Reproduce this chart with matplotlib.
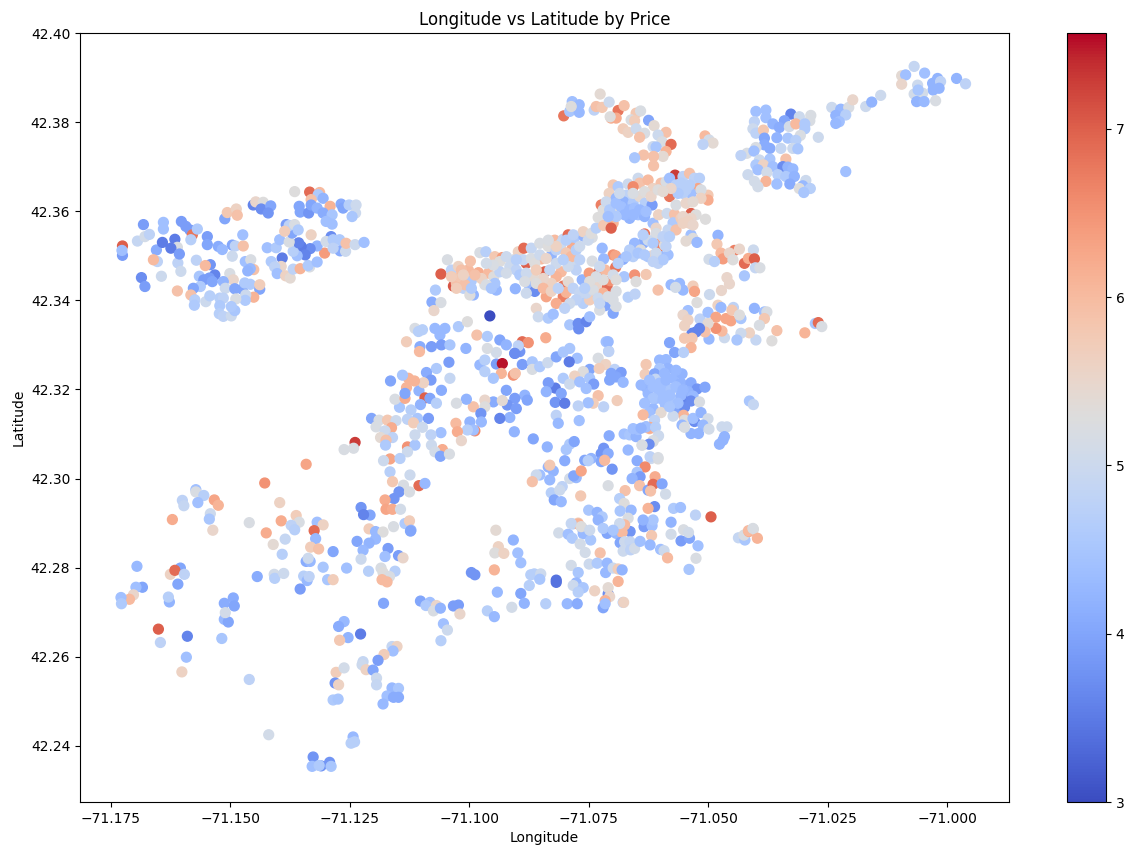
import pandas as pd
import matplotlib
matplotlib.use('Agg')
import matplotlib.pyplot as plt

# listings: (longitude, latitude, log price)
brighton = [(-71.1715,42.3522,7.0),(-71.1715,42.3501,3.9),(-71.1716,42.3512,4.4),(-71.1673,42.3570,3.9),(-71.1685,42.3533,4.9),(-71.1670,42.3543,5.1),(-71.1661,42.3548,4.8),(-71.1647,42.3513,4.1),(-71.1635,42.3530,3.5),(-71.1633,42.3575,4.4),(-71.1633,42.3560,4.4),(-71.1610,42.3537,3.5),(-71.1605,42.3519,5.2),(-71.1618,42.3517,3.5),(-71.1645,42.3487,4.8),(-71.1653,42.3491,6.0),(-71.1604,42.3484,4.8),(-71.1601,42.3504,3.9),(-71.1598,42.3465,5.0),(-71.1677,42.3451,3.7),(-71.1670,42.3431,3.9),(-71.1637,42.3454,5.0),(-71.1605,42.3421,5.9),(-71.1597,42.3577,3.9),(-71.1588,42.3566,3.9),(-71.1580,42.3558,3.9),(-71.1575,42.3547,6.8),(-71.1565,42.3560,4.6),(-71.1578,42.3536,4.7),(-71.1545,42.3543,3.9),(-71.1545,42.3525,4.0),(-71.1567,42.3490,4.8),(-71.1539,42.3480,3.8),(-71.1549,42.3478,6.0),
 (-71.1510,42.3583,4.0),(-71.1505,42.3597,5.8),(-71.1487,42.3605,5.6),(-71.1485,42.3591,5.9),(-71.1453,42.3614,3.6),(-71.1448,42.3621,5.5),(-71.1433,42.3620,5.3),(-71.1437,42.3605,3.7),(-71.1418,42.3612,4.0),(-71.1423,42.3596,3.8),(-71.1523,42.3521,4.1),(-71.1515,42.3514,4.3),(-71.1495,42.3524,4.0),(-71.1489,42.3522,4.8),(-71.1473,42.3522,5.9),(-71.1474,42.3547,4.4),(-71.1495,42.3499,5.0),(-71.1469,42.3487,4.4),(-71.1458,42.3491,5.2),(-71.1452,42.3469,5.9),(-71.1459,42.3471,4.3),(-71.1464,42.3466,4.2),(-71.1500,42.3460,5.2),(-71.1493,42.3446,5.5),(-71.1530,42.3457,3.6),(-71.1561,42.3454,4.5),(-71.1552,42.3446,3.9),(-71.1541,42.3450,3.9),(-71.1535,42.3442,4.0),(-71.1513,42.3442,4.2),(-71.1559,42.3431,4.6),(-71.1573,42.3427,4.0),(-71.1578,42.3412,5.9),(-71.1570,42.3401,4.7),(-71.1571,42.3389,4.6),(-71.1548,42.3397,5.0),(-71.1540,42.3410,4.7),(-71.1520,42.3405,4.7),(-71.1509,42.3427,5.0),(-71.1490,42.3426,4.0),(-71.1475,42.3425,4.0),(-71.1459,42.3436,4.6),(-71.1470,42.3439,4.6),(-71.1440,42.3425,4.0),(-71.1440,42.3435,5.7),(-71.1452,42.3407,6.1),(-71.1468,42.3412,5.0),(-71.1469,42.3400,4.6),(-71.1488,42.3403,5.2),(-71.1513,42.3405,4.8),(-71.1520,42.3388,4.6),(-71.1521,42.3370,4.7),(-71.1513,42.3364,4.8),(-71.1497,42.3365,5.0),(-71.1490,42.3377,4.5),(-71.1497,42.3386,4.6),
 (-71.1425,42.3518,4.4),(-71.1407,42.3518,4.6),(-71.1400,42.3536,4.4),(-71.1417,42.3487,4.6),(-71.1395,42.3495,3.5),(-71.1397,42.3476,5.5),(-71.1410,42.3475,4.8),(-71.1405,42.3460,4.4),(-71.1388,42.3455,5.6),(-71.1379,42.3450,5.4),(-71.1373,42.3470,4.8),(-71.1359,42.3471,6.1),(-71.1340,42.3475,5.2),(-71.1343,42.3478,4.6),(-71.1325,42.3486,4.4),(-71.1310,42.3506,6.4),(-71.1325,42.3522,4.2),(-71.1339,42.3516,3.7),(-71.1357,42.3521,3.5),(-71.1349,42.3502,3.6),(-71.1365,42.3500,4.4),(-71.1373,42.3510,4.7),(-71.1362,42.3529,3.6),(-71.1381,42.3531,5.2),(-71.1375,42.3551,4.0),(-71.1387,42.3570,3.9),(-71.1381,42.3568,4.8),(-71.1370,42.3570,5.2),(-71.1363,42.3558,4.6),(-71.1390,42.3555,5.7),(-71.1337,42.3547,5.6),(-71.1297,42.3543,3.7),(-71.1307,42.3532,5.1),(-71.1293,42.3536,4.6),(-71.1280,42.3536,4.6),(-71.1279,42.3511,4.1),(-71.1268,42.3510,5.0),(-71.1267,42.3528,5.9),(-71.1249,42.3525,5.0),(-71.1231,42.3530,4.4),(-71.1293,42.3517,4.8),
 (-71.1370,42.3644,5.3),(-71.1340,42.3643,6.9),(-71.1320,42.3642,6.0),(-71.1323,42.3637,4.6),(-71.1337,42.3626,5.9),(-71.1313,42.3629,4.2),(-71.1361,42.3611,4.0),(-71.1359,42.3598,4.0),(-71.1342,42.3596,3.8),(-71.1337,42.3614,4.0),(-71.1325,42.3607,4.2),(-71.1299,42.3611,6.1),(-71.1313,42.3596,4.1),(-71.1295,42.3592,4.5),(-71.1307,42.3577,4.4),(-71.1295,42.3571,4.4),(-71.1277,42.3616,4.1),(-71.1273,42.3607,4.0),(-71.1261,42.3614,4.7),(-71.1247,42.3614,5.0),(-71.1248,42.3596,5.0),(-71.1255,42.3588,4.5)]

back_bay = [(-71.1077,42.3459,7.0),(-71.1064,42.3491,5.2),(-71.1056,42.3468,4.8),(-71.1052,42.3432,7.1),(-71.1046,42.3438,5.9),(-71.1042,42.3476,5.6),(-71.1022,42.3468,6.0),(-71.1018,42.3488,5.9),(-71.1002,42.3462,6.2),(-71.0999,42.3507,5.2),(-71.0987,42.3509,4.7),(-71.0969,42.3498,5.8),(-71.0954,42.3496,6.4),(-71.0982,42.3461,6.0),(-71.0971,42.3453,5.3),(-71.0989,42.3435,5.2),(-71.0966,42.3423,4.3),(-71.0969,42.3438,4.5),(-71.1016,42.3444,4.6),(-71.1032,42.3427,4.8),(-71.1012,42.3412,4.2),(-71.1019,42.3412,5.3),(-71.1088,42.3423,4.6),(-71.1095,42.3396,4.1),(-71.1077,42.3395,5.2),(-71.1091,42.3377,5.5),(-71.0928,42.3426,4.2),(-71.0932,42.3491,5.2),(-71.0922,42.3509,5.6),(-71.0911,42.3517,6.9),(-71.0906,42.3483,7.0),(-71.0896,42.3517,4.9),(-71.0879,42.3528,5.2),(-71.0876,42.3493,6.0),(-71.0856,42.3500,4.2),(-71.0849,42.3535,6.0),(-71.0832,42.3537,4.9),(-71.0822,42.3547,6.9),(-71.0811,42.3536,4.6),(-71.0837,42.3517,5.7),(-71.0814,42.3517,6.2),(-71.0819,42.3498,6.0),(-71.0809,42.3483,5.0),(-71.0869,42.3464,7.0),(-71.0836,42.3464,6.0),(-71.0846,42.3453,6.1),(-71.0899,42.3431,4.3),(-71.0889,42.3420,3.7),(-71.0906,42.3416,5.0),(-71.0866,42.3408,6.3),(-71.0856,42.3438,5.6),(-71.0832,42.3432,6.8),(-71.0832,42.3408,6.7),(-71.0826,42.3418,6.1),(-71.0794,42.3446,4.2),(-71.0780,42.3461,6.4),(-71.0760,42.3464,6.9),(-71.0748,42.3468,6.0),(-71.0727,42.3474,6.8),(-71.0732,42.3502,6.5),(-71.0727,42.3500,6.3),(-71.0712,42.3492,4.1),(-71.0751,42.3493,4.3),(-71.0754,42.3517,4.3),(-71.0774,42.3488,5.2),(-71.0791,42.3544,4.2),(-71.0774,42.3541,5.2),(-71.0792,42.3554,5.6),(-71.0744,42.3429,6.9),(-71.0766,42.3431,5.5),(-71.0738,42.3444,6.5),(-71.0726,42.3420,5.2),(-71.0752,42.3416,6.1),(-71.0781,42.3405,6.9),(-71.0792,42.3393,4.7),(-71.0779,42.3401,5.7),(-71.0748,42.3388,4.0),(-71.0759,42.3378,5.2),(-71.0732,42.3371,4.0),(-71.0726,42.3386,5.2),(-71.0846,42.3393,6.2),(-71.0886,42.3382,5.5),(-71.0882,42.3363,5.0),(-71.0862,42.3360,4.6),(-71.0852,42.3369,4.4),(-71.0819,42.3345,4.5),(-71.0802,42.3348,3.7),(-71.0786,42.3352,3.6),(-71.0801,42.3336,3.7),(-71.0779,42.3363,4.4),(-71.0979,42.3365,3.0),(-71.0867,42.3316,6.2),(-71.0742,42.3307,4.3),(-71.0741,42.3285,4.8),(-71.0710,42.3453,4.5),(-71.0689,42.3457,6.5),(-71.0666,42.3458,5.8),(-71.0686,42.3442,5.3),(-71.0702,42.3407,4.7),(-71.0688,42.3414,4.8),(-71.0642,42.3423,5.9),(-71.0616,42.3435,4.3),(-71.0599,42.3438,4.3),(-71.0592,42.3423,4.3),(-71.0607,42.3429,5.1),(-71.0572,42.3432,5.7),(-71.0569,42.3420,6.3)]

back_bay_infill = [(-71.1039,42.3453,5.8),(-71.1029,42.3435,5.9),(-71.1046,42.3427,5.7),(-71.0996,42.3449,5.6),(-71.1016,42.3427,4.6),(-71.0986,42.3435,5.2),(-71.0976,42.3427,4.5),(-71.0959,42.3487,5.3),(-71.0946,42.3498,5.0),(-71.0939,42.3476,5.0),(-71.0926,42.3468,4.8),(-71.0919,42.3457,4.6),(-71.0912,42.3491,4.9),(-71.0896,42.3494,5.2),(-71.0889,42.3483,5.3),(-71.0879,42.3502,5.0),(-71.0862,42.3521,5.3),(-71.0846,42.3513,4.8),(-71.0836,42.3528,5.0),(-71.0826,42.3506,5.8),(-71.0816,42.3498,6.0),(-71.0806,42.3513,4.7),(-71.0799,42.3491,4.8),(-71.0806,42.3468,4.8),(-71.0822,42.3476,5.0),(-71.0846,42.3483,5.0),(-71.0859,42.3468,4.9),(-71.0872,42.3449,5.5),(-71.0892,42.3453,5.4),(-71.0906,42.3461,5.0),(-71.0909,42.3442,5.2),(-71.0886,42.3438,5.3),(-71.0872,42.3427,6.0),(-71.0856,42.3420,5.6),(-71.0842,42.3427,4.8),(-71.0822,42.3442,5.4),(-71.0812,42.3427,4.8),(-71.0799,42.3416,4.9),(-71.0806,42.3401,4.8),(-71.0819,42.3393,5.0),(-71.0829,42.3382,4.8),(-71.0786,42.3416,4.9),(-71.0772,42.3423,5.2),(-71.0762,42.3405,5.0),(-71.0752,42.3446,5.3),(-71.0766,42.3453,5.2),(-71.0779,42.3442,5.3),(-71.0789,42.3427,4.7),(-71.0759,42.3476,5.0),(-71.0732,42.3457,5.1),(-71.0726,42.3446,5.3),(-71.0742,42.3408,5.2),(-71.0732,42.3401,5.2),(-71.0759,42.3393,4.9),(-71.0846,42.3521,5.6),(-71.0862,42.3535,5.2),(-71.0826,42.3535,4.7),(-71.0812,42.3547,4.8),(-71.0799,42.3521,5.0),(-71.0782,42.3535,5.0),(-71.0776,42.3550,5.3),(-71.0832,42.3491,4.7),(-71.0866,42.3494,5.5),(-71.0886,42.3468,5.7),(-71.0926,42.3491,4.7),(-71.0959,42.3464,4.8),(-71.0946,42.3461,5.1),(-71.0972,42.3479,5.2),(-71.0986,42.3483,5.1),(-71.1056,42.3453,5.7),(-71.1036,42.3468,5.9),(-71.1032,42.3457,5.6),(-71.1009,42.3457,5.9)]

downtown = [(-71.0766,42.3562,4.7),(-71.0756,42.3614,6.7),(-71.0752,42.3603,5.3),(-71.0762,42.3586,5.3),(-71.0751,42.3568,5.8),(-71.0732,42.3573,6.1),(-71.0736,42.3562,7.0),(-71.0732,42.3659,5.8),(-71.0722,42.3655,4.6),(-71.0740,42.3640,5.6),(-71.0706,42.3636,4.8),(-71.0702,42.3661,5.0),(-71.0682,42.3674,5.0),(-71.0679,42.3663,5.9),(-71.0662,42.3670,6.0),(-71.0652,42.3651,5.6),(-71.0692,42.3655,6.6),(-71.0726,42.3629,4.3),(-71.0711,42.3621,4.2),(-71.0727,42.3603,5.2),(-71.0712,42.3601,5.2),(-71.0692,42.3618,4.6),(-71.0679,42.3633,5.4),(-71.0668,42.3618,4.7),(-71.0654,42.3614,3.9),(-71.0699,42.3584,4.2),(-71.0682,42.3592,4.4),(-71.0669,42.3588,4.2),(-71.0652,42.3573,4.4),(-71.0641,42.3592,5.6),(-71.0624,42.3595,5.0),(-71.0609,42.3593,5.9),(-71.0612,42.3574,4.6),(-71.0619,42.3633,6.8),(-71.0636,42.3663,5.9),(-71.0626,42.3666,5.2),(-71.0608,42.3681,7.3),(-71.0619,42.3674,4.4),(-71.0592,42.3678,4.8),(-71.0579,42.3685,5.9),(-71.0569,42.3674,4.8),(-71.0559,42.3674,4.7),(-71.0562,42.3651,6.3),(-71.0576,42.3640,4.4),(-71.0542,42.3636,5.8),(-71.0542,42.3625,6.2),(-71.0592,42.3640,4.7),(-71.0606,42.3614,5.2),(-71.0586,42.3618,5.5),(-71.0576,42.3595,7.0),(-71.0586,42.3582,5.6),(-71.0579,42.3573,5.6),(-71.0566,42.3592,5.3),(-71.0547,42.3582,5.3),(-71.0596,42.3584,5.7),(-71.0669,42.3549,6.8),(-71.0646,42.3562,5.5),(-71.0622,42.3558,4.9),(-71.0606,42.3558,5.9),(-71.0672,42.3528,4.1),(-71.0689,42.3528,4.3),(-71.0639,42.3532,6.3),(-71.0642,42.3517,6.7),(-71.0629,42.3524,5.3),(-71.0677,42.3513,5.3),(-71.0699,42.3513,4.7),(-71.0692,42.3498,4.7),(-71.0662,42.3498,4.5),(-71.0654,42.3500,5.5),(-71.0636,42.3498,4.3),(-71.0622,42.3502,4.4),(-71.0642,42.3483,4.8),(-71.0626,42.3521,4.8),(-71.0576,42.3547,4.4),(-71.0572,42.3539,5.3),(-71.0586,42.3533,5.4),(-71.0564,42.3530,4.3),(-71.0522,42.3546,4.2),(-71.0524,42.3526,5.8),(-71.0516,42.3506,6.0),(-71.0489,42.3512,6.7),(-71.0479,42.3515,5.5),(-71.0451,42.3513,5.0),(-71.0512,42.3493,6.4),(-71.0499,42.3506,5.5),(-71.0492,42.3491,5.3),(-71.0540,42.3492,5.1),(-71.0529,42.3487,4.7),(-71.0469,42.3483,6.9),(-71.0461,42.3494,6.2),(-71.0449,42.3493,7.0),(-71.0447,42.3473,4.9),(-71.0438,42.3473,5.2),(-71.0469,42.3455,4.5),(-71.0504,42.3451,5.5),(-71.0499,42.3437,5.5),(-71.0515,42.3422,5.5),(-71.0539,42.3413,5.0),(-71.0564,42.3395,5.3)]

downtown_infill = [(-71.0746,42.3621,5.0),(-71.0739,42.3603,4.6),(-71.0726,42.3618,4.4),(-71.0716,42.3610,4.4),(-71.0699,42.3603,4.3),(-71.0689,42.3607,4.4),(-71.0679,42.3603,4.3),(-71.0666,42.3599,4.4),(-71.0692,42.3592,4.3),(-71.0709,42.3592,4.3),(-71.0726,42.3588,4.6),(-71.0742,42.3588,4.4),(-71.0719,42.3640,5.0),(-71.0692,42.3640,5.2),(-71.0669,42.3644,5.3),(-71.0656,42.3633,5.5),(-71.0642,42.3648,5.3),(-71.0606,42.3659,4.7),(-71.0596,42.3663,4.7),(-71.0579,42.3659,4.7),(-71.0586,42.3648,4.7),(-71.0602,42.3640,4.6),(-71.0616,42.3651,5.5),(-71.0632,42.3644,5.4),(-71.0556,42.3648,5.2),(-71.0556,42.3629,5.6),(-71.0572,42.3621,5.4),(-71.0592,42.3588,5.5),(-71.0576,42.3584,5.5),(-71.0582,42.3577,5.6),(-71.0592,42.3573,5.6),(-71.0572,42.3569,5.5),(-71.0646,42.3550,5.2),(-71.0632,42.3543,4.8),(-71.0619,42.3543,4.7),(-71.0662,42.3535,5.0),(-71.0652,42.3528,4.6),(-71.0672,42.3547,4.7),(-71.0682,42.3506,4.5),(-71.0669,42.3502,4.6),(-71.0646,42.3506,5.0),(-71.0632,42.3491,4.6),(-71.0652,42.3487,4.8),(-71.0706,42.3498,4.5),(-71.0722,42.3483,4.7)]

south_end = [(-71.1146,42.3307,5.7),(-71.1129,42.3337,5.2),(-71.1122,42.3330,4.7),(-71.1114,42.3334,4.7),(-71.1119,42.3296,4.1),(-71.1096,42.3296,3.9),(-71.1120,42.3285,6.0),(-71.1089,42.3337,4.3),(-71.1069,42.3337,4.3),(-71.1079,42.3322,4.3),(-71.1042,42.3341,4.6),(-71.1024,42.3352,5.3),(-71.1076,42.3300,3.9),(-71.1059,42.3300,4.5),(-71.1027,42.3292,4.2),(-71.1005,42.3322,5.9),(-71.0984,42.3319,4.6),(-71.0959,42.3311,4.0),(-71.0946,42.3300,4.2),(-71.0929,42.3281,3.7),(-71.0919,42.3285,3.8),(-71.0914,42.3307,6.9),(-71.0902,42.3305,6.5),(-71.0922,42.3298,4.8),(-71.0966,42.3283,5.1),(-71.0984,42.3292,5.2),
 (-71.0999,42.3255,4.3),(-71.0989,42.3266,4.7),(-71.0966,42.3257,3.9),(-71.0954,42.3258,7.5),(-71.0956,42.3236,6.1),(-71.0932,42.3232,6.5),(-71.0928,42.3236,5.9),(-71.0972,42.3225,4.5),(-71.0989,42.3240,4.7),(-71.0914,42.3256,3.9),(-71.0929,42.3281,3.7),(-71.0894,42.3262,4.5),(-71.0894,42.3245,5.2),(-71.0879,42.3251,4.6),(-71.0863,42.3260,5.0),(-71.0846,42.3273,4.0),(-71.0832,42.3284,4.5),(-71.0819,42.3292,4.5),(-71.0804,42.3270,4.4),(-71.0820,42.3262,3.5),(-71.0762,42.3270,5.2),(-71.0746,42.3307,4.4),(-71.0741,42.3286,4.6),(-71.0747,42.3256,5.6),(-71.0729,42.3245,4.8),(-71.0779,42.3245,4.0),(-71.0792,42.3240,5.3),(-71.0809,42.3230,5.6),(-71.0760,42.3247,5.7),(-71.0736,42.3236,4.0),(-71.0716,42.3238,3.9),(-71.0726,42.3228,4.0),(-71.0739,42.3221,4.0),(-71.0712,42.3216,4.3),(-71.0668,42.3234,5.7),(-71.0832,42.3225,4.6),(-71.0819,42.3212,5.0),(-71.0799,42.3217,4.4),(-71.0779,42.3225,4.5),(-71.0771,42.3212,3.9),(-71.0786,42.3202,4.4),(-71.0848,42.3203,3.5),(-71.0862,42.3215,3.9),(-71.0866,42.3195,4.2),(-71.0836,42.3191,4.0),(-71.0762,42.3186,5.9),(-71.0772,42.3169,5.7),(-71.0782,42.3170,4.4),(-71.0802,42.3163,4.8),(-71.0751,42.3161,4.8),(-71.0724,42.3175,5.7),(-71.0848,42.3171,3.8),(-71.0829,42.3169,3.5),(-71.0846,42.3142,4.8),(-71.0842,42.3124,4.3),(-71.0800,42.3130,4.4),(-71.0892,42.3089,4.0),(-71.0864,42.3071,4.2),(-71.0930,42.3105,4.2)]

roxbury = [(-71.0946,42.3198,4.0),(-71.0909,42.3187,4.2),(-71.0904,42.3176,4.0),(-71.0929,42.3180,3.9),(-71.0944,42.3165,3.8),(-71.0926,42.3157,3.9),(-71.0939,42.3137,4.2),(-71.0959,42.3135,3.6),(-71.0972,42.3172,4.1),(-71.0954,42.3175,5.4),(-71.0989,42.3176,5.5),(-71.0989,42.3161,5.3),(-71.1012,42.3161,5.9),(-71.1026,42.3178,4.2),(-71.1046,42.3169,5.2),(-71.0997,42.3146,3.8),(-71.1019,42.3127,4.2),(-71.0996,42.3127,4.3),(-71.1009,42.3107,6.6),(-71.1012,42.3109,4.4),(-71.1024,42.3109,4.7),(-71.1047,42.3124,6.0),(-71.1044,42.3105,6.2),(-71.1036,42.3085,5.5),(-71.1077,42.3103,4.4),(-71.1102,42.3135,3.9),(-71.1124,42.3135,4.5),(-71.1137,42.3154,4.7),(-71.1160,42.3160,4.5),(-71.1169,42.3178,5.2),(-71.1149,42.3180,6.2),(-71.1146,42.3204,6.1),(-71.1149,42.3191,4.0),(-71.1121,42.3197,4.2),(-71.1076,42.3198,4.1),(-71.1059,42.3225,4.9),(-71.1061,42.3261,3.9),(-71.1086,42.3247,4.6),(-71.1106,42.3238,4.1),(-71.1097,42.3221,3.9),(-71.1112,42.3215,5.6),(-71.1142,42.3225,6.1),(-71.1154,42.3232,4.5),(-71.1130,42.3219,6.1),(-71.1178,42.3219,4.0),(-71.1109,42.3181,7.0),(-71.1099,42.3180,4.0),(-71.1086,42.3169,4.7),(-71.1118,42.3166,4.2),(-71.1216,42.3135,4.0),(-71.1201,42.3131,5.2),(-71.1184,42.3131,5.8),(-71.1167,42.3130,5.0),(-71.1144,42.3133,4.8),(-71.1132,42.3125,5.7),(-71.1114,42.3115,5.0),(-71.1207,42.3116,5.2),(-71.1176,42.3114,6.2),(-71.1189,42.3107,5.0),(-71.1198,42.3092,5.4),(-71.1174,42.3092,4.8),(-71.1187,42.3086,5.9),(-71.1188,42.3075,4.6),(-71.1144,42.3071,6.5),(-71.1129,42.3075,4.5),(-71.1129,42.3098,5.0),(-71.1097,42.3098,4.8),(-71.1096,42.3075,5.0),(-71.1074,42.3065,6.2),(-71.1089,42.3060,5.1),(-71.1078,42.3050,4.0),(-71.1060,42.3055,5.2),(-71.1144,42.3060,5.0),(-71.1179,42.3044,6.3),(-71.1192,42.3040,5.0),(-71.1159,42.3045,4.7),(-71.1179,42.3015,4.7),(-71.1139,42.3008,5.0),(-71.1174,42.2993,5.8),(-71.1152,42.2985,5.2),(-71.1121,42.2984,6.9),(-71.1109,42.2989,4.3),(-71.1161,42.2970,3.8),(-71.1171,42.2955,3.8),(-71.1140,42.2970,5.2),(-71.1189,42.2952,6.2),(-71.1187,42.2931,6.3),(-71.1174,42.2931,6.2),(-71.1158,42.2931,5.1),(-71.1219,42.2918,4.0),(-71.1149,42.2899,4.6),(-71.1140,42.2905,5.7),(-71.1172,42.2892,5.2),(-71.0967,42.2884,5.4),(-71.1137,42.2884,4.2),(-71.1249,42.3081,7.3),(-71.1271,42.3065,5.2),(-71.1252,42.3068,5.2),(-71.1237,42.2935,3.8),(-71.1232,42.2919,3.6),(-71.1221,42.2887,5.7),(-71.1208,42.2881,4.3),(-71.1193,42.2880,5.3),(-71.1208,42.2864,4.3),(-71.1221,42.2855,4.2),(-71.1245,42.2859,4.0),(-71.1233,42.2839,4.3),(-71.1183,42.2843,3.9),(-71.1162,42.2827,3.9),(-71.1153,42.2822,5.5),(-71.1189,42.2825,4.4),(-71.1237,42.2819,5.0),(-71.1222,42.2792,4.7),(-71.1197,42.2799,5.2),(-71.1169,42.2792,4.7),(-71.1193,42.2789,5.3),(-71.1180,42.2780,5.2),(-71.1195,42.2773,6.0),(-71.1185,42.2768,6.0)]

dorchester = [(-71.0862,42.3026,4.2),(-71.0852,42.3017,4.2),(-71.0879,42.3008,4.4),(-71.0886,42.3008,5.0),(-71.0894,42.2993,5.9),(-71.0859,42.2997,4.3),(-71.0859,42.3030,5.8),(-71.0819,42.3000,5.1),(-71.0806,42.3002,4.3),(-71.0811,42.3006,4.0),(-71.0796,42.3017,6.3),(-71.0834,42.2982,4.8),(-71.0856,42.2968,4.7),(-71.0839,42.2974,5.0),(-71.0850,42.2952,4.0),(-71.0836,42.2948,4.3),(-71.0797,42.2961,5.8),(-71.0819,42.3077,4.6),(-71.0810,42.3083,4.0),(-71.0826,42.3065,4.5),(-71.0829,42.3040,4.1),(-71.0789,42.3041,4.0),(-71.0776,42.3045,4.2),(-71.0782,42.3040,4.7),(-71.0740,42.3096,4.1),(-71.0751,42.3068,3.8),(-71.0756,42.3056,3.8),(-71.0742,42.3056,4.1),(-71.0756,42.3038,4.0),(-71.0749,42.3041,6.0),(-71.0734,42.3021,3.8),(-71.0710,42.3100,4.4),(-71.0699,42.3098,4.5),(-71.0686,42.3094,4.2),(-71.0682,42.3110,4.4),(-71.0666,42.3116,4.2),(-71.0659,42.3112,6.1),(-71.0692,42.3112,4.4),(-71.0702,42.3064,4.3),(-71.0674,42.3075,5.2),(-71.0652,42.3083,5.2),(-71.0642,42.3095,5.2),(-71.0656,42.3045,5.0),(-71.0642,42.3044,5.3),(-71.0684,42.3040,4.1),(-71.0668,42.3026,6.6),(-71.0684,42.3014,4.5),(-71.0678,42.3004,3.9),(-71.0694,42.3000,4.2),(-71.0648,42.3004,6.2),(-71.0679,42.2984,5.9),(-71.0662,42.2974,4.0),(-71.0652,42.2987,6.9),(-71.0634,42.2988,4.0),(-71.0657,42.2972,5.9),(-71.0627,42.2965,5.1),(-71.0742,42.2984,5.2),(-71.0708,42.2973,5.9),(-71.0719,42.2955,4.7),(-71.0710,42.2944,5.3),(-71.0649,42.2937,3.7),(-71.0662,42.2933,6.1),(-71.0611,42.2933,4.6),(-71.0597,42.2935,4.4),(-71.0567,42.2918,4.8),(-71.0536,42.2914,7.0),(-71.0616,42.2902,4.2),(-71.0781,42.2929,4.5),(-71.0764,42.2924,4.2),(-71.0754,42.2914,4.6),(-71.0762,42.2907,4.2),(-71.0718,42.2927,4.5),(-71.0696,42.2929,4.3),(-71.0702,42.2911,5.2),(-71.0709,42.2896,6.0),(-71.0652,42.2907,4.5),(-71.0672,42.2907,4.2),(-71.0802,42.2898,6.1),(-71.0816,42.2899,4.9),(-71.0796,42.2892,5.3),(-71.0779,42.2884,5.0),(-71.0719,42.2899,5.0),(-71.0752,42.2888,4.6),(-71.0732,42.2884,4.5),(-71.0461,42.2883,6.0),(-71.0452,42.2888,5.2)]

south_boston = [(-71.0582,42.3377,4.4),(-71.0592,42.3367,5.5),(-71.0582,42.3356,5.6),(-71.0558,42.3358,4.8),(-71.0542,42.3373,4.4),(-71.0522,42.3389,5.6),(-71.0516,42.3384,4.3),(-71.0491,42.3384,4.8),(-71.0526,42.3362,6.3),(-71.0506,42.3359,6.3),(-71.0496,42.3354,6.3),(-71.0494,42.3378,5.8),(-71.0476,42.3359,4.5),(-71.0479,42.3367,5.3),(-71.0449,42.3382,4.2),(-71.0429,42.3374,4.4),(-71.0424,42.3374,5.2),(-71.0429,42.3359,5.8),(-71.0439,42.3344,5.2),(-71.0404,42.3332,5.9),(-71.0414,42.3309,5.3),(-71.0446,42.3311,4.9),(-71.0459,42.3327,5.6),(-71.0476,42.3326,5.0),(-71.0484,42.3311,4.5),(-71.0509,42.3316,5.0),(-71.0514,42.3331,6.0),(-71.0526,42.3337,6.5),(-71.0542,42.3348,5.4),(-71.0540,42.3313,4.3),(-71.0548,42.3329,5.9),(-71.0574,42.3326,3.6),(-71.0566,42.3329,3.6),(-71.0559,42.3337,3.6),(-71.0574,42.3315,5.8),(-71.0589,42.3315,5.8),(-71.0576,42.3294,6.1),(-71.0589,42.3343,5.6),(-71.0619,42.3305,4.0),(-71.0609,42.3283,4.0),(-71.0591,42.3283,4.7),(-71.0327,42.3348,4.5),(-71.0321,42.3350,6.9),(-71.0314,42.3341,5.2),(-71.0348,42.3327,6.1),
 (-71.0639,42.3266,4.3),(-71.0626,42.3267,4.3),(-71.0622,42.3247,4.2),(-71.0639,42.3247,4.5),(-71.0666,42.3256,5.8),(-71.0649,42.3235,4.0),(-71.0647,42.3223,4.9),(-71.0666,42.3205,4.2),(-71.0676,42.3210,4.3),(-71.0632,42.3202,4.4),(-71.0616,42.3200,4.5),(-71.0612,42.3225,4.3),(-71.0594,42.3235,4.2),(-71.0596,42.3214,4.2),(-71.0576,42.3215,4.1),(-71.0564,42.3201,3.8),(-71.0548,42.3205,4.0),(-71.0582,42.3195,4.2),(-71.0572,42.3185,4.3),(-71.0592,42.3176,3.6),(-71.0576,42.3174,3.7),(-71.0609,42.3175,4.5),(-71.0627,42.3165,4.4),(-71.0646,42.3180,4.4),(-71.0662,42.3191,4.3),(-71.0559,42.3172,5.2),(-71.0652,42.3157,4.3),(-71.0636,42.3148,5.4),(-71.0660,42.3148,4.4),(-71.0672,42.3143,6.0),(-71.0604,42.3152,4.0),(-71.0589,42.3160,3.7),(-71.0591,42.3142,6.1),(-71.0612,42.3140,5.0),(-71.0589,42.3131,5.3),(-71.0569,42.3128,3.7),(-71.0572,42.3135,4.4),(-71.0556,42.3148,4.2),(-71.0542,42.3134,5.1),(-71.0594,42.3120,4.3),(-71.0552,42.3120,4.3),(-71.0540,42.3111,5.1),(-71.0576,42.3101,4.2),(-71.0561,42.3101,4.2),(-71.0589,42.3115,5.2),(-71.0649,42.3131,4.8),(-71.0659,42.3115,6.2),(-71.0666,42.3116,4.4),(-71.0676,42.3113,4.2),(-71.0647,42.3115,4.7),(-71.0459,42.3174,4.5),(-71.0451,42.3166,4.9),(-71.0514,42.3116,5.0),(-71.0504,42.3116,5.0),(-71.0509,42.3094,4.2),(-71.0512,42.3086,4.2),(-71.0519,42.3077,4.2),(-71.0641,42.3096,5.0),(-71.0652,42.3085,5.2),(-71.0660,42.3077,3.7),(-71.0674,42.3075,5.2),(-71.0658,42.3049,4.8),(-71.0642,42.3047,5.2)]

blob_infill = [(-71.0652,42.3206,4.4),(-71.0639,42.3214,4.4),(-71.0626,42.3221,4.3),(-71.0606,42.3206,4.4),(-71.0619,42.3187,4.4),(-71.0592,42.3199,4.3),(-71.0639,42.3191,4.4),(-71.0659,42.3221,4.4),(-71.0652,42.3180,4.5),(-71.0632,42.3176,4.4),(-71.0596,42.3187,4.3),(-71.0602,42.3169,4.4),(-71.0619,42.3161,4.5),(-71.0669,42.3169,4.4),(-71.0629,42.3236,4.3),(-71.0606,42.3243,4.3)]

hyde_park = [(-71.1568,42.2975,4.4),(-71.1568,42.2970,5.2),(-71.1552,42.2962,4.7),(-71.1595,42.2951,4.8),(-71.1592,42.2939,4.9),(-71.1564,42.2946,4.4),(-71.1531,42.2952,6.3),(-71.1523,42.2940,6.1),(-71.1615,42.2908,6.2),(-71.1539,42.2921,5.0),(-71.1541,42.2909,4.5),(-71.1534,42.2884,5.5),(-71.1430,42.2990,6.5),(-71.1347,42.3032,6.3),(-71.1400,42.2946,5.6),(-71.1397,42.2905,6.2),(-71.1367,42.2917,5.7),(-71.1361,42.2902,5.2),(-71.1377,42.2895,4.8),(-71.1370,42.2885,4.7),(-71.1427,42.2878,6.2),(-71.1461,42.2901,5.2),(-71.1413,42.2852,5.4),(-71.1389,42.2864,4.9),(-71.1395,42.2830,4.7),(-71.1325,42.2902,4.4),(-71.1313,42.2896,5.6),(-71.1331,42.2883,6.9),(-71.1328,42.2865,4.3),(-71.1338,42.2846,5.7),(-71.1322,42.2842,5.9),(-71.1293,42.2836,4.0),(-71.1347,42.2814,4.1),(-71.1339,42.2814,4.3),(-71.1343,42.2821,5.0),(-71.1313,42.2801,4.5),(-71.1266,42.2799,4.4),(-71.1445,42.2780,4.1),(-71.1411,42.2785,5.1),(-71.1410,42.2776,4.7),(-71.1392,42.2787,5.0),(-71.1352,42.2781,4.7),(-71.1345,42.2771,4.3),(-71.1341,42.2780,4.8),(-71.1304,42.2773,4.5),(-71.1293,42.2773,5.7),(-71.1359,42.2752,3.9),(-71.1686,42.2803,4.3),(-71.1599,42.2799,4.0),(-71.1619,42.2785,5.6),(-71.1610,42.2794,6.9),(-71.1591,42.2785,4.8),(-71.1604,42.2763,4.0),(-71.1675,42.2756,4.0),(-71.1688,42.2756,4.4),(-71.1693,42.2739,5.5),(-71.1701,42.2729,6.0),(-71.1718,42.2733,4.4),(-71.1717,42.2719,4.6),(-71.1621,42.2723,4.2),(-71.1623,42.2734,4.7),(-71.1493,42.2732,4.1),(-71.1511,42.2720,4.1),(-71.1491,42.2714,4.0),(-71.1511,42.2684,4.3),(-71.1503,42.2678,4.0),(-71.1509,42.2699,5.1),(-71.1643,42.2662,7.0),(-71.1585,42.2646,3.6),(-71.1639,42.2632,4.8),(-71.1516,42.2641,4.5),(-71.1587,42.2599,4.4),(-71.1596,42.2566,5.6),(-71.1461,42.2549,4.8),(-71.1271,42.2679,4.3),(-71.1282,42.2668,4.1),(-71.1263,42.2643,4.2),(-71.1280,42.2637,5.8),(-71.1238,42.2651,3.5),(-71.1175,42.2623,4.9),(-71.1165,42.2623,5.6),(-71.1173,42.2613,4.4),(-71.1191,42.2605,5.7),(-71.1203,42.2592,3.9),(-71.1233,42.2589,4.9),(-71.1235,42.2582,5.0),(-71.1227,42.2571,5.6),(-71.1213,42.2570,4.0),(-71.1287,42.2565,5.7),(-71.1271,42.2575,5.1),(-71.1289,42.2541,3.8),(-71.1282,42.2537,5.6),(-71.1206,42.2552,5.0),(-71.1206,42.2537,4.9),(-71.1175,42.2530,4.3),(-71.1162,42.2529,4.5),(-71.1185,42.2512,4.4),(-71.1172,42.2509,4.1),(-71.1162,42.2509,4.1),(-71.1193,42.2494,4.3),(-71.1293,42.2503,4.6),(-71.1283,42.2505,4.5),(-71.1422,42.2425,5.1),(-71.1253,42.2420,4.3),(-71.1250,42.2409,4.7),(-71.1257,42.2406,4.7),(-71.1333,42.2375,3.8),(-71.1300,42.2363,3.8),(-71.1335,42.2354,4.4),(-71.1317,42.2355,3.8),(-71.1321,42.2356,4.6),(-71.1297,42.2354,4.5),(-71.1192,42.2720,4.0)]

charlestown = [(-71.0831,42.3814,6.8),(-71.0819,42.3824,4.5),(-71.0814,42.3846,4.4),(-71.0800,42.3839,4.3),(-71.0800,42.3822,4.3),(-71.0816,42.3835,5.3),(-71.0770,42.3827,4.8),(-71.0766,42.3835,5.9),(-71.0754,42.3833,5.8),(-71.0758,42.3863,5.4),(-71.0740,42.3845,5.0),(-71.0722,42.3826,6.8),(-71.0710,42.3837,5.9),(-71.0736,42.3809,6.2),(-71.0726,42.3809,6.2),(-71.0738,42.3812,5.3),(-71.0686,42.3820,5.8),(-71.0677,42.3825,5.2),(-71.0661,42.3804,4.0),(-71.0696,42.3805,5.2),(-71.0689,42.3803,5.7),(-71.0712,42.3785,5.7),(-71.0702,42.3777,5.6),(-71.0686,42.3785,5.0),(-71.0669,42.3775,5.2),(-71.0650,42.3792,5.4),(-71.0626,42.3777,5.9),(-71.0679,42.3766,5.9),(-71.0642,42.3771,5.0),(-71.0634,42.3756,5.2),(-71.0616,42.3750,6.9),(-71.0652,42.3745,5.0),(-71.0646,42.3744,4.5),(-71.0626,42.3734,6.1),(-71.0632,42.3723,5.4),(-71.0671,42.3726,5.9),(-71.0651,42.3723,5.9),(-71.0651,42.3702,5.9),(-71.0689,42.3720,4.5),(-71.0548,42.3769,6.0),(-71.0540,42.3760,5.1),(-71.0532,42.3753,5.4),(-71.0552,42.3750,4.8)]

east_boston = [(-71.0446,42.3824,4.4),(-71.0426,42.3827,4.4),(-71.0426,42.3810,4.4),(-71.0376,42.3818,3.6),(-71.0359,42.3812,5.0),(-71.0336,42.3815,5.2),(-71.0338,42.3803,5.2),(-71.0449,42.3801,4.8),(-71.0452,42.3785,5.0),(-71.0446,42.3775,4.8),(-71.0431,42.3782,5.8),(-71.0412,42.3796,4.2),(-71.0389,42.3803,4.0),(-71.0399,42.3788,4.1),(-71.0379,42.3790,5.1),(-71.0366,42.3796,6.0),(-71.0348,42.3796,4.6),(-71.0348,42.3785,4.6),(-71.0357,42.3770,5.2),(-71.0382,42.3764,4.5),(-71.0404,42.3765,4.2),(-71.0429,42.3764,4.0),(-71.0429,42.3749,4.1),(-71.0418,42.3741,4.1),(-71.0396,42.3741,4.9),(-71.0366,42.3759,4.7),(-71.0372,42.3741,5.0),(-71.0362,42.3740,4.5),(-71.0446,42.3743,5.2),(-71.0464,42.3730,5.2),(-71.0476,42.3725,4.8),(-71.0450,42.3735,4.4),(-71.0386,42.3717,5.9),(-71.0321,42.3766,5.0),(-71.0294,42.3833,5.0),(-71.0276,42.3829,4.3),(-71.0260,42.3833,5.2),(-71.0286,42.3815,4.2),(-71.0266,42.3816,4.7),(-71.0279,42.3801,4.4),(-71.0286,42.3797,4.3),(-71.0252,42.3850,5.5),(-71.0226,42.3835,5.0),(-71.0214,42.3845,4.2),(-71.0196,42.3860,5.0),(-71.0439,42.3715,5.0),(-71.0418,42.3717,4.5),(-71.0446,42.3704,4.6),(-71.0431,42.3704,5.6),(-71.0412,42.3700,4.4),(-71.0392,42.3700,3.7),(-71.0382,42.3699,4.2),(-71.0372,42.3695,4.3),(-71.0462,42.3682,5.0),(-71.0442,42.3693,4.4),(-71.0424,42.3687,5.1),(-71.0402,42.3682,4.7),(-71.0386,42.3678,4.6),(-71.0369,42.3678,4.2),(-71.0449,42.3667,5.1),(-71.0426,42.3667,6.1),(-71.0404,42.3661,4.4),(-71.0378,42.3661,4.1),(-71.0442,42.3655,5.1),(-71.0346,42.3669,5.0),(-71.0352,42.3657,4.3),(-71.0337,42.3651,4.7),(-71.0359,42.3651,5.3),(-71.0350,42.3642,4.5),(-71.0266,42.3689,4.4),
 (-71.0129,42.3925,4.9),(-71.0154,42.3904,5.4),(-71.0146,42.3906,4.4),(-71.0154,42.3885,5.5),(-71.0108,42.3910,4.4),(-71.0082,42.3898,4.2),(-71.0092,42.3887,4.2),(-71.0076,42.3891,4.8),(-71.0079,42.3876,4.2),(-71.0091,42.3872,4.2),(-71.0122,42.3883,5.0),(-71.0112,42.3865,5.1),(-71.0129,42.3863,5.1),(-71.0121,42.3872,4.5),(-71.0124,42.3846,4.2),(-71.0109,42.3846,4.3),(-71.0086,42.3848,5.2),(-71.0044,42.3898,4.2),(-71.0026,42.3886,4.8)]

mattapan = [(-71.0932,42.2862,4.2),(-71.0962,42.2847,5.6),(-71.0969,42.2833,5.3),(-71.0951,42.2832,5.6),(-71.0923,42.2833,4.4),(-71.0917,42.2811,4.4),(-71.0970,42.2795,6.1),(-71.1016,42.2789,3.8),(-71.1009,42.2784,3.8),(-71.0964,42.2745,4.3),(-71.0900,42.2760,4.7),(-71.0897,42.2784,4.7),(-71.0890,42.2786,4.7),(-71.0877,42.2786,5.0),(-71.0879,42.2774,4.5),(-71.0917,42.2742,4.0),(-71.0910,42.2720,4.2),(-71.0935,42.2711,5.1),(-71.0867,42.2719,4.7),(-71.0984,42.2703,4.7),(-71.0970,42.2690,4.3),(-71.0846,42.2772,3.4),(-71.0846,42.2767,3.4),(-71.0824,42.2719,4.3),(-71.0804,42.2719,4.1),(-71.1118,42.2725,4.0),(-71.1099,42.2722,4.4),(-71.1107,42.2715,4.6),(-71.1086,42.2715,5.5),(-71.1092,42.2703,5.2),(-71.1078,42.2709,4.2),(-71.1052,42.2714,3.9),(-71.1042,42.2716,3.9),(-71.1039,42.2696,5.5),(-71.1072,42.2674,4.4),(-71.1064,42.2660,5.0),(-71.1077,42.2636,4.7),(-71.1138,42.2882,4.0),(-71.0841,42.2878,5.1),(-71.0822,42.2875,4.4),(-71.0814,42.2866,4.6),(-71.0813,42.2898,4.7),(-71.0802,42.2900,5.7),(-71.0794,42.2888,4.4),(-71.0792,42.2876,4.3),(-71.0777,42.2862,4.5),(-71.0798,42.2853,5.1),(-71.0788,42.2834,5.1),(-71.0758,42.2833,5.9),(-71.0816,42.2805,5.1),(-71.0780,42.2808,5.0),(-71.0764,42.2810,4.6),(-71.0744,42.2810,4.3),(-71.0747,42.2789,4.3),(-71.0802,42.2789,4.5),(-71.0732,42.2799,5.0),(-71.0722,42.2797,5.7),(-71.0714,42.2795,4.2),(-71.0722,42.2769,6.1),(-71.0806,42.2766,4.3),(-71.0812,42.2760,5.0),(-71.0792,42.2755,4.5),(-71.0802,42.2745,4.7),(-71.0769,42.2748,5.6),(-71.0742,42.2741,3.7),(-71.0742,42.2755,5.4),(-71.0739,42.2735,5.5),(-71.0748,42.2726,6.1),(-71.0752,42.2710,4.0),(-71.0748,42.2719,4.4),(-71.0712,42.2722,4.7),(-71.0711,42.2722,5.6),(-71.0744,42.2877,4.0),(-71.0726,42.2877,4.3),(-71.0698,42.2881,3.8),(-71.0711,42.2896,6.1),(-71.0714,42.2879,6.0),(-71.0718,42.2856,4.0),(-71.0709,42.2858,5.0),(-71.0698,42.2858,4.9),(-71.0712,42.2837,5.0),(-71.0697,42.2840,4.8),(-71.0689,42.2843,5.1),(-71.0678,42.2859,4.4),(-71.0670,42.2892,3.9),(-71.0654,42.2894,4.4),(-71.0655,42.2872,5.8),(-71.0658,42.2851,4.3),(-71.0637,42.2841,4.4),(-71.0630,42.2838,5.0),(-71.0623,42.2822,6.0),(-71.0616,42.2875,5.1),(-71.0596,42.2860,3.9),(-71.0579,42.2866,4.0),(-71.0591,42.2885,5.2),(-71.0581,42.2879,5.1),(-71.0562,42.2849,4.4),(-71.0566,42.2821,5.2),(-71.0580,42.2796,4.5),(-71.0481,42.2867,4.9),(-71.0468,42.2862,4.5),(-71.0470,42.2873,5.2),(-71.0460,42.2881,6.2),(-71.0451,42.2886,5.3),(-71.0443,42.2866,6.1)]

neighbourhoods = [brighton, hyde_park, roxbury, mattapan, dorchester, south_end, south_boston, blob_infill, back_bay, back_bay_infill, downtown, downtown_infill, charlestown, east_boston]
df = pd.DataFrame([row for hood in neighbourhoods for row in hood], columns=['longitude', 'latitude', 'log_price'])

# the longitudes above were first read against a slightly wrong tick spacing, recalibrate them
df['longitude'] = -71.175 + (df['longitude'] + 71.175) * 4995 / 4784 - 5.7 / 4784

fig = plt.figure(figsize=(11.34, 8.55), dpi=100)
ax = fig.add_axes([80/1134, 1-802/855, 929/1134, 769/855])
cax = fig.add_axes([1067/1134, 1-802/855, 39/1134, 769/855])

sc = ax.scatter(df['longitude'], df['latitude'], c=df['log_price'], cmap='coolwarm', vmin=3.0, vmax=7.57, s=50)
fig.colorbar(sc, cax=cax, ticks=[3, 4, 5, 6, 7])

ax.set_xlim(-71.18142, -70.98710)
ax.set_ylim(42.2274, 42.4000)
ax.set_title('Longitude vs Latitude by Price')
ax.set_xlabel('Longitude')
ax.set_ylabel('Latitude')

fig.savefig('out.png', dpi=100)
